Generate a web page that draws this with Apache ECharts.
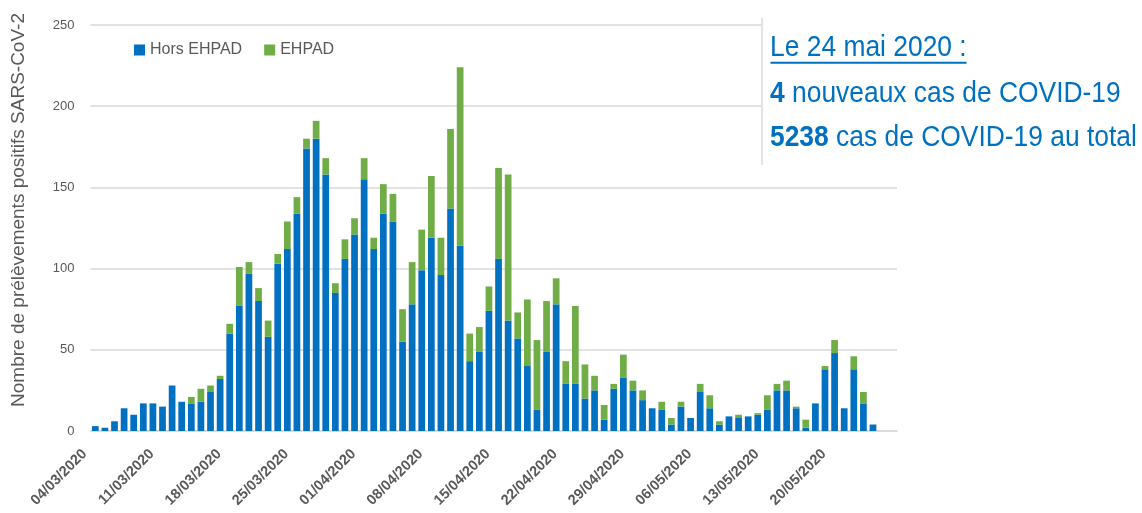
<!DOCTYPE html>
<html>
<head>
<meta charset="utf-8">
<script src="https://cdn.jsdelivr.net/npm/echarts@6/dist/echarts.min.js"></script>
<style>
  html, body { margin: 0; padding: 0; background: #fff; }
  #chart { width: 1142px; height: 513px; }
</style>
</head>
<body>
<div id="chart"></div>
<script>
// Dates (2 trailing days without data, as in the original axis)
const dates = [
  "04/03/2020","05/03/2020","06/03/2020","07/03/2020","08/03/2020","09/03/2020","10/03/2020",
  "11/03/2020","12/03/2020","13/03/2020","14/03/2020","15/03/2020","16/03/2020","17/03/2020",
  "18/03/2020","19/03/2020","20/03/2020","21/03/2020","22/03/2020","23/03/2020","24/03/2020",
  "25/03/2020","26/03/2020","27/03/2020","28/03/2020","29/03/2020","30/03/2020","31/03/2020",
  "01/04/2020","02/04/2020","03/04/2020","04/04/2020","05/04/2020","06/04/2020","07/04/2020",
  "08/04/2020","09/04/2020","10/04/2020","11/04/2020","12/04/2020","13/04/2020","14/04/2020",
  "15/04/2020","16/04/2020","17/04/2020","18/04/2020","19/04/2020","20/04/2020","21/04/2020",
  "22/04/2020","23/04/2020","24/04/2020","25/04/2020","26/04/2020","27/04/2020","28/04/2020",
  "29/04/2020","30/04/2020","01/05/2020","02/05/2020","03/05/2020","04/05/2020","05/05/2020",
  "06/05/2020","07/05/2020","08/05/2020","09/05/2020","10/05/2020","11/05/2020","12/05/2020",
  "13/05/2020","14/05/2020","15/05/2020","16/05/2020","17/05/2020","18/05/2020","19/05/2020",
  "20/05/2020","21/05/2020","22/05/2020","23/05/2020","24/05/2020","25/05/2020","26/05/2020"
];

// Hors EHPAD
const horsEhpad = [
  3, 2, 6, 14, 10, 17, 17,
  15, 28, 18, 17, 18, 24, 32,
  60, 77, 97, 80, 58, 103, 112,
  134, 174, 180, 158, 85, 106, 121,
  155, 112, 134, 129, 55, 78, 99,
  119, 96, 137, 114, 43, 49, 74,
  106, 68, 57, 40, 13, 49, 78,
  29, 29, 20, 25, 7, 26, 33,
  25, 19, 14, 13, 4, 15, 8,
  24, 14, 4, 9, 8, 9, 10,
  13, 25, 25, 14, 2, 17, 38,
  48, 14, 38, 17, 4
];

// EHPAD
const ehpad = [
  0, 0, 0, 0, 0, 0, 0,
  0, 0, 0, 4, 8, 4, 2,
  6, 24, 7, 8, 10, 6, 17,
  10, 6, 11, 10, 6, 12, 10,
  13, 7, 18, 17, 20, 26, 25,
  38, 23, 49, 110, 17, 15, 15,
  56, 90, 16, 41, 43, 31, 16,
  14, 48, 21, 9, 9, 3, 14,
  6, 6, 0, 5, 4, 3, 0,
  5, 8, 2, 0, 2, 0, 1,
  9, 4, 6, 1, 5, 0, 2,
  8, 0, 8, 7, 0
];

const yTicks = [0, 50, 100, 150, 200, 250];

const BLUE = "#0070C0";
const GREEN = "#70AD47";
const GREY = "#595959";

const chart = echarts.init(document.getElementById("chart"));

const option = {
  animation: false,
  backgroundColor: "#ffffff",
  textStyle: { fontFamily: "'Liberation Sans', Arial, sans-serif" },

  legend: {
    left: 129,
    top: 37,
    icon: "rect",
    itemWidth: 11,
    itemHeight: 11,
    itemGap: 22,
    textStyle: { fontSize: 16, color: GREY },
    data: ["Hors EHPAD", "EHPAD"]
  },

  grid: {
    left: 90.5,
    right: 245,
    top: 25,
    bottom: 82,
    containLabel: false
  },

  xAxis: {
    type: "category",
    data: dates,
    axisLine: { lineStyle: { color: "#d9d9d9", width: 1.5 } },
    axisTick: { show: false },
    axisLabel: {
      interval: 6,
      rotate: 45,
      margin: 10,
      padding: [0, 15, 0, 0],
      fontSize: 14.5,
      fontWeight: "bold",
      color: GREY
    }
  },

  yAxis: {
    type: "value",
    min: yTicks[0],
    max: yTicks[yTicks.length - 1],
    interval: 50,
    name: "Nombre de prélèvements positifs SARS-CoV-2",
    nameLocation: "middle",
    nameGap: 62,
    nameTextStyle: { fontSize: 19, color: GREY, padding: [0, 0, 0, 36] },
    axisLine: { show: false },
    axisTick: { show: false },
    axisLabel: { fontSize: 13, color: GREY, margin: 16 },
    splitLine: { lineStyle: { color: "#d9d9d9", width: 1.5 } }
  },

  series: [
    {
      name: "Hors EHPAD",
      type: "bar",
      stack: "total",
      barCategoryGap: "30%",
      itemStyle: { color: BLUE },
      data: horsEhpad
    },
    {
      name: "EHPAD",
      type: "bar",
      stack: "total",
      barCategoryGap: "30%",
      itemStyle: { color: GREEN },
      data: ehpad
    }
  ],

  // Encadré d'information
  graphic: [
    {
      type: "rect",
      z: 100,
      shape: { x: 762, y: 18, width: 380, height: 147 },
      style: { fill: "#ffffff" }
    },
    {
      type: "line",
      z: 101,
      shape: { x1: 762, y1: 18, x2: 762, y2: 165 },
      style: { stroke: "#e4e4e4", lineWidth: 2 }
    },
    {
      type: "group",
      z: 102,
      x: 770,
      y: 0,
      scaleX: 0.88,
      children: [
        {
          type: "text",
          z: 102,
          x: 0,
          y: 47.5,
          style: {
            text: "Le 24 mai 2020 :",
            fill: BLUE,
            font: "30px 'Liberation Sans', Arial, sans-serif",
            verticalAlign: "middle"
          }
        },
        {
          type: "text",
          z: 102,
          x: 0,
          y: 93.7,
          style: {
            text: "{b|4} nouveaux cas de COVID-19",
            fill: BLUE,
            fontSize: 30,
            fontFamily: "'Liberation Sans', Arial, sans-serif",
            verticalAlign: "middle",
            rich: { b: { fontWeight: "bold", fontSize: 30, fill: BLUE } }
          }
        },
        {
          type: "text",
          z: 102,
          x: 0,
          y: 137.5,
          style: {
            text: "{b|5238} cas de COVID-19 au total",
            fill: BLUE,
            fontSize: 30,
            fontFamily: "'Liberation Sans', Arial, sans-serif",
            verticalAlign: "middle",
            rich: { b: { fontWeight: "bold", fontSize: 30, fill: BLUE } }
          }
        }
      ]
    },
    {
      type: "line",
      z: 102,
      shape: { x1: 770.5, y1: 62.7, x2: 966.5, y2: 62.7 },
      style: { stroke: BLUE, lineWidth: 2 }
    }
  ]
};

chart.setOption(option);
</script>
</body>
</html>
